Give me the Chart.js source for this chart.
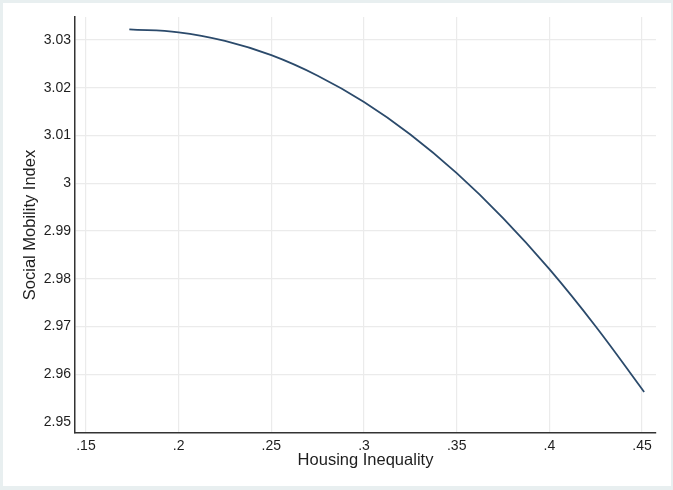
<!DOCTYPE html>
<html>
<head>
<meta charset="utf-8">
<script src="https://cdn.jsdelivr.net/npm/chart.js@4"></script>
<style>
  html, body { margin: 0; padding: 0; background: #fff; }
  #frame {
    position: absolute; left: 0; top: 0;
    width: 673px; height: 490px; box-sizing: border-box;
    border-style: solid; border-color: #e8eff0;
    border-width: 3px 2px 4px 3px;
    background: #fff;
  }
  #frame canvas { display: block; }
</style>
</head>
<body>
<div id="frame"><canvas id="lineChart" width="668" height="483"></canvas></div>
<script>
// values
const inequality = [0.1734, 0.2, 0.225, 0.25, 0.275, 0.3, 0.325, 0.35, 0.375, 0.4, 0.425, 0.4511];
const mobility   = [3.0322, 3.0316, 3.0298, 3.0268, 3.0225, 3.0170, 3.0102, 3.0021, 2.9927, 2.9820, 2.9700, 2.9563];

const xTicks = [0.15, 0.2, 0.25, 0.3, 0.35, 0.4, 0.45];
const xTickLabels = ['.15', '.2', '.25', '.3', '.35', '.4', '.45'];
const yTicks = [2.95, 2.96, 2.97, 2.98, 2.99, 3, 3.01, 3.02, 3.03];
const yTickLabels = ['2.95', '2.96', '2.97', '2.98', '2.99', '3', '3.01', '3.02', '3.03'];

const puntos = inequality.map((x, i) => ({ x: x, y: mobility[i] }));

Chart.defaults.font.family = '"Liberation Sans", Arial, sans-serif';
Chart.defaults.color = '#1e1e1e';

const ctx = document.getElementById('lineChart').getContext('2d');
new Chart(ctx, {
  type: 'line',
  data: {
    datasets: [{
      label: 'Social Mobility Index',
      data: puntos,
      borderColor: '#2b4a6b',
      borderWidth: 1.8,
      pointRadius: 0,
      fill: false,
      tension: 0.4
    }]
  },
  options: {
    responsive: false,
    animation: false,
    layout: { padding: { top: 14, right: 15, left: 0, bottom: 0 } },
    plugins: { legend: { display: false }, tooltip: { enabled: false } },
    scales: {
      x: {
        type: 'linear',
        min: 0.1441,
        max: 0.4575,
        afterBuildTicks: s => { s.ticks = xTicks.map(v => ({ value: v })); },
        afterFit: s => { s.height = 53; },
        ticks: {
          font: { size: 14 },
          padding: 5,
          maxRotation: 0,
          autoSkip: false,
          callback: (v, i) => xTickLabels[i]
        },
        grid: { color: '#ebebeb', lineWidth: 1.2, drawTicks: false },
        border: { color: '#333', width: 1.5 },
        title: {
          display: true,
          text: 'Housing Inequality',
          font: { size: 16.5 },
          padding: { top: 0, bottom: 16 }
        }
      },
      y: {
        min: 2.9477,
        max: 3.0348,
        afterBuildTicks: s => { s.ticks = yTicks.map(v => ({ value: v })); },
        afterFit: s => { s.width = 72; },
        ticks: {
          font: { size: 14 },
          padding: 4,
          autoSkip: false,
          callback: (v, i) => yTickLabels[i]
        },
        grid: {
          color: c => (c.tick && c.tick.value === 2.95) ? 'rgba(0,0,0,0)' : '#ebebeb',
          lineWidth: 1.2,
          drawTicks: false
        },
        border: { color: '#333', width: 1.5 },
        title: {
          display: true,
          text: 'Social Mobility Index',
          font: { size: 16.5 },
          padding: { top: 18, bottom: 0 }
        }
      }
    }
  }
});
</script>
</body>
</html>
